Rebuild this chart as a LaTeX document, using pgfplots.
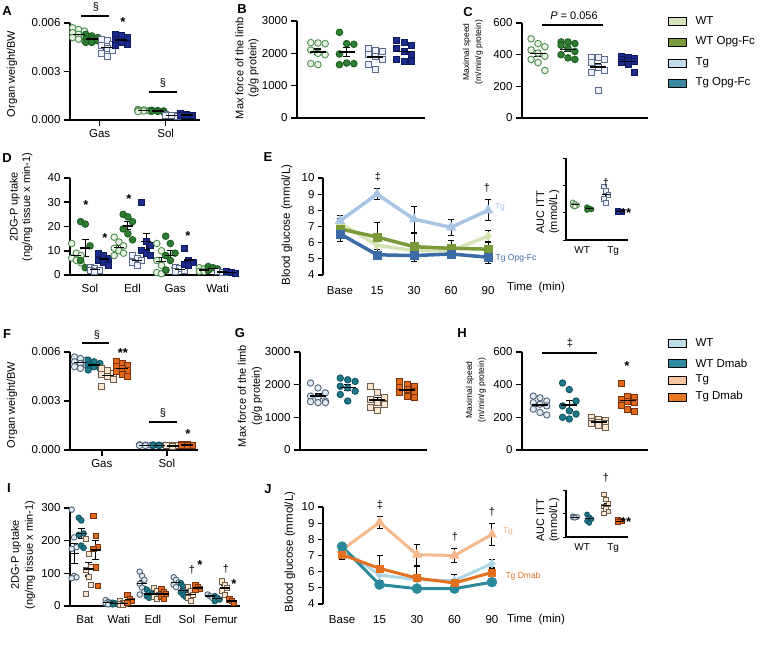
\documentclass[border=0pt]{standalone}
\usepackage{fontspec}
\setmainfont{Liberation Sans}
\usepackage{pgfplots}
\pgfplotsset{compat=1.18}
\newcommand\fs[1]{\fontsize{#1}{14}\selectfont}
\definecolor{wtF}{HTML}{EAF4E4}\definecolor{wtE}{HTML}{4E8B4E}
\definecolor{opgF}{HTML}{2E7D32}\definecolor{opgE}{HTML}{1B5E20}
\definecolor{tgF}{HTML}{EEF2FA}\definecolor{tgE}{HTML}{5A6A8A}
\definecolor{tgoF}{HTML}{1C2B8C}\definecolor{tgoE}{HTML}{0E1A5E}
\definecolor{wt2F}{HTML}{E2ECF5}\definecolor{wt2E}{HTML}{4E6278}
\definecolor{dmF}{HTML}{1E7A8A}\definecolor{dmE}{HTML}{0F5260}
\definecolor{tg2F}{HTML}{FBE6D2}\definecolor{tg2E}{HTML}{6E5C4C}
\definecolor{tgdF}{HTML}{E0681C}\definecolor{tgdE}{HTML}{7A3208}
\definecolor{eWT}{HTML}{D4E3B4}\definecolor{eOpg}{HTML}{7A9A3A}
\definecolor{eTg}{HTML}{A9C5E6}\definecolor{eTgo}{HTML}{3D6BA7}
\definecolor{jWT}{HTML}{ADD7E6}\definecolor{jDm}{HTML}{2A8A9C}
\definecolor{jTg}{HTML}{F5B98B}\definecolor{jTgd}{HTML}{E3701F}
\definecolor{l1a}{HTML}{D6E4BD}\definecolor{l1b}{HTML}{7B9C3C}
\definecolor{l1c}{HTML}{C2DCED}\definecolor{l1d}{HTML}{3A879F}
\definecolor{l2a}{HTML}{BDDDE9}\definecolor{l2b}{HTML}{2F8BA0}
\definecolor{l2c}{HTML}{F8C6A2}\definecolor{l2d}{HTML}{EA7722}

% scatter of typed values; x positions get a fixed small left/centre/right offset
\newcommand\swarm[4]{%
  \def\swlist{}\def\swi{0}%
  \pgfplotsforeachungrouped \swv in {#4}{%
    \pgfmathsetmacro\swx{#2+#3*(mod(\swi,3)-1)}%
    \xdef\swlist{\swlist(\swx,\swv)}%
    \pgfmathtruncatemacro\swi{\swi+1}%
  }%
  \edef\swcmd{\noexpand\addplot[\unexpanded{#1}] coordinates {\swlist};}%
  \swcmd
}

\pgfplotsset{
 panel/.style={scale only axis, anchor=south west, clip=false,
   axis x line*=bottom, axis y line*=left,
   axis line style={line width=2pt},
   tick style={line width=1.6pt, black}, tick align=outside, major tick length=6pt,
   tick label style={font=\fs{11.5}},
   /pgf/number format/assume math mode=true, /pgf/number format/1000 sep={},
   scaled y ticks=false, enlargelimits=false},
 s1wt/.style={only marks, mark=*, mark size=3.3pt, mark options={fill=wtF, draw=wtE, line width=0.9pt}},
 s1opg/.style={only marks, mark=*, mark size=3.3pt, mark options={fill=opgF, draw=opgE, line width=0.9pt}},
 s1tg/.style={only marks, mark=square*, mark size=3pt, mark options={fill=tgF, draw=tgE, line width=0.9pt}},
 s1tgo/.style={only marks, mark=square*, mark size=3pt, mark options={fill=tgoF, draw=tgoE, line width=0.9pt}},
 s2wt/.style={only marks, mark=*, mark size=3.2pt, mark options={fill=wt2F, draw=wt2E, line width=0.9pt}},
 s2dm/.style={only marks, mark=*, mark size=3.2pt, mark options={fill=dmF, draw=dmE, line width=0.9pt}},
 s2tg/.style={only marks, mark=square*, mark size=3pt, mark options={fill=tg2F, draw=tg2E, line width=0.9pt}},
 s2tgd/.style={only marks, mark=square*, mark size=3pt, mark options={fill=tgdF, draw=tgdE, line width=0.9pt}},
 msem/.style={only marks, black, mark=-, mark size=7pt, mark options={line width=1.5pt, black},
   error bars/y dir=both, error bars/y explicit,
   error bars/error bar style={line width=1.1pt, black},
   error bars/error mark options={rotate=90, mark size=3.5pt, line width=1.1pt, black}},
 eline/.style={mark options={solid, line width=0.5pt},
   error bars/y dir=both, error bars/y explicit,
   error bars/error bar style={black, line width=1pt},
   error bars/error mark options={rotate=90, black, mark size=3pt, line width=1pt}},
}

\begin{document}
\begin{tikzpicture}
\useasboundingbox (0,0) rectangle (763pt,649pt);

% ---------------- A ----------------
\begin{axis}[panel, at={(70pt,529pt)}, width=130pt, height=97pt,
  xmin=-0.45, xmax=1.52, ymin=0, ymax=0.006, ytick={0,0.003,0.006},
  yticklabel style={/pgf/number format/fixed, /pgf/number format/fixed zerofill, /pgf/number format/precision=3},
  xtick={0,1}, xticklabels={Gas,Sol}]
\swarm{s1wt}{-0.32}{0.09}{0.0057,0.0056,0.0055,0.0054,0.0053,0.0052,0.0051,0.0050,0.0049}
\swarm{s1opg}{-0.12}{0.09}{0.0053,0.0052,0.0051,0.0050,0.0050,0.0049,0.0048,0.0048}
\swarm{s1tg}{0.11}{0.09}{0.0050,0.0049,0.0047,0.0046,0.0044,0.0043,0.0041,0.0039}
\swarm{s1tgo}{0.33}{0.09}{0.0053,0.0052,0.0051,0.0050,0.0048,0.0047,0.0046}
\swarm{s1wt}{0.67}{0.09}{0.00065,0.00062,0.0006,0.00058,0.00056,0.00055,0.00052}
\swarm{s1opg}{0.88}{0.09}{0.0006,0.00058,0.00056,0.00055,0.00053,0.0005}
\swarm{s1tg}{1.09}{0.09}{0.00033,0.0003,0.00029,0.00028,0.00027,0.00025}
\swarm{s1tgo}{1.32}{0.09}{0.00038,0.00034,0.00031,0.0003,0.00028,0.00026}
\addplot[msem, mark size=6pt] coordinates {(-0.32,0.0053) +- (0,0.0001) (-0.12,0.00501) +- (0,0.00006) (0.11,0.00449) +- (0,0.00014) (0.33,0.00496) +- (0,0.0001)
 (0.67,0.00058) +- (0,0.00002) (0.88,0.00055) +- (0,0.00002) (1.09,0.00029) +- (0,0.00001) (1.32,0.00031) +- (0,0.00002)};
\end{axis}

% ---------------- B ----------------
\begin{axis}[panel, at={(297pt,531pt)}, width=128pt, height=97pt,
  xmin=0.27, xmax=4.73, ymin=0, ymax=3000, ytick={0,1000,2000,3000}, xtick=\empty]
\swarm{s1wt}{1}{0.25}{2330,2320,2300,2100,2000,1960,1680,1650}
\swarm{s1opg}{2}{0.25}{2650,2300,2280,1980,1700,1680,1650}
\swarm{s1tg}{3}{0.25}{2150,2100,2050,1950,1900,1800,1650,1500}
\swarm{s1tgo}{4}{0.25}{2400,2350,2250,2150,2050,1950,1800,1750,1750}
\addplot[msem, mark size=8pt] coordinates {(1,2043) +- (0,90) (2,2034) +- (0,140) (3,1888) +- (0,80) (4,2050) +- (0,80)};
\end{axis}

% ---------------- C ----------------
\begin{axis}[panel, at={(522pt,531pt)}, width=126pt, height=95pt,
  xmin=0.467, xmax=4.667, ymin=0, ymax=600, ytick={0,200,400,600}, xtick=\empty]
\swarm{s1wt}{1}{0.23}{500,470,450,430,410,390,370,350,300}
\swarm{s1opg}{2}{0.23}{480,480,470,460,440,420,400,380,370}
\swarm{s1tg}{3}{0.23}{385,385,370,350,320,300,290,175}
\swarm{s1tgo}{4}{0.23}{390,380,375,370,365,360,350,340,290}
\addplot[msem, mark size=8pt] coordinates {(1,408) +- (0,19) (2,433) +- (0,14) (3,322) +- (0,24) (4,358) +- (0,10)};
\end{axis}

% ---------------- D ----------------
\begin{axis}[panel, at={(70pt,374pt)}, width=168pt, height=97pt,
  xmin=-0.47, xmax=3.48, ymin=0, ymax=40, ytick={0,10,20,30,40},
  xtick={0,1,2,3}, xticklabels={Sol,Edl,Gas,Wati}, xtick style={draw=none}]
\swarm{s1wt}{-0.32}{0.11}{13,9,8,7,6,5}
\swarm{s1opg}{-0.11}{0.11}{22,21,12,6,3,3}
\swarm{s1tg}{0.11}{0.11}{3,2.5,2,2,1.5}
\swarm{s1tgo}{0.32}{0.11}{9,8,7,6,5,4}
\swarm{s1wt}{0.68}{0.11}{15.6,13.6,12,11,10,9,8}
\swarm{s1opg}{0.89}{0.11}{25,24,22,19,17,14.5}
\swarm{s1tg}{1.11}{0.11}{8,7,6,5,4}
\swarm{s1tgo}{1.32}{0.11}{30,14,12,10,9,8}
\swarm{s1wt}{1.68}{0.11}{13,10,8,6,4,2,1,0.5}
\swarm{s1opg}{1.89}{0.11}{16,13,9,8,6,3,2}
\swarm{s1tg}{2.11}{0.11}{3,2.5,2,1.5}
\swarm{s1tgo}{2.32}{0.11}{11,6,5,4.5,4}
\swarm{s1wt}{2.68}{0.11}{3,2.5,2,1.5,1.5}
\swarm{s1opg}{2.89}{0.11}{3.5,3,2.5,2}
\swarm{s1tg}{3.11}{0.11}{1.5,1,1}
\swarm{s1tgo}{3.32}{0.11}{1.5,1,0.8}
\addplot[msem, mark size=5pt] coordinates {(-0.32,8.0) +- (0,1.2) (-0.11,11.2) +- (0,3.4) (0.11,2.2) +- (0,0.3) (0.32,6.5) +- (0,0.8)
 (0.68,11.3) +- (0,1) (0.89,20.3) +- (0,1.7) (1.11,6) +- (0,0.7) (1.32,13.8) +- (0,3.3)
 (1.68,5.6) +- (0,1.5) (1.89,8.1) +- (0,1.9) (2.11,2.25) +- (0,0.3) (2.32,6.1) +- (0,1.3)
 (2.68,2.1) +- (0,0.3) (2.89,2.75) +- (0,0.3) (3.11,1.2) +- (0,0.2) (3.32,1.1) +- (0,0.2)};
\end{axis}

% ---------------- E ----------------
\begin{axis}[panel, at={(323pt,374pt)}, width=178pt, height=97pt,
  xmin=-0.46, xmax=4.35, ymin=4, ymax=10, ytick={4,5,...,10},
  xtick={0,1,2,3,4}, xticklabels={Base,15,30,60,90},
  x axis line style={draw=none}, xtick style={draw=none},
  axis line style={line width=1.6pt}, tick style={line width=1.3pt}, major tick length=5pt,
  tick label style={font=\fs{11.5}}, xticklabel style={yshift=-3pt}]
\addplot[eline, color=eWT, line width=3.5pt, mark=diamond*, mark size=4.5pt] coordinates {(0,7.2) +- (0,0.3) (1,5.85) +- (0,0.4) (2,5.5) +- (0,0.5) (3,5.5) +- (0,0.4) (4,6.4) +- (0,0.35)};
\addplot[eline, color=eTg, line width=3.5pt, mark=triangle*, mark size=5.5pt] coordinates {(0,7.35) +- (0,0.3) (1,9.0) +- (0,0.35) (2,7.45) +- (0,0.8) (3,6.95) +- (0,0.5) (4,8.0) +- (0,0.65)};
\addplot[eline, color=eOpg, line width=3.5pt, mark=square*, mark size=4pt] coordinates {(0,6.85) +- (0,0.3) (1,6.35) +- (0,0.9) (2,5.75) +- (0,0.8) (3,5.65) +- (0,0.5) (4,5.6) +- (0,0.4)};
\addplot[eline, color=eTgo, line width=3.5pt, mark=square*, mark size=4pt] coordinates {(0,6.55) +- (0,0.45) (1,5.25) +- (0,0.3) (2,5.2) +- (0,0.35) (3,5.3) +- (0,0.3) (4,5.1) +- (0,0.4)};
\end{axis}

% ---------------- E inset ----------------
\begin{axis}[panel, at={(566pt,409pt)}, width=62pt, height=82pt,
  xmin=-0.52, xmax=1.48, ymin=0, ymax=600, ytick={0,200,400,600}, yticklabels={},
  xtick={0,1}, xticklabels={WT,Tg}, xtick style={draw=none},
  axis line style={line width=1.5pt}, tick style={line width=1pt}, major tick length=3pt,
  tick label style={font=\fs{10}}]
\swarm{s1wt, mark size=2.4pt}{-0.23}{0.07}{275,265,255,250,245}
\swarm{s1opg, mark size=2.4pt}{0.23}{0.07}{240,230,225,220}
\swarm{s1tg, mark size=2.2pt}{0.77}{0.07}{390,360,330,300,270}
\swarm{s1tgo, mark size=2.2pt}{1.23}{0.07}{215,210,205,200}
\addplot[msem, mark size=4pt, mark options={line width=1pt}, error bars/error mark options={rotate=90, mark size=2pt, line width=0.8pt, black}] coordinates {(-0.23,258) +- (0,6) (0.23,229) +- (0,4) (0.77,330) +- (0,21) (1.23,207) +- (0,3)};
\end{axis}

% ---------------- F ----------------
\begin{axis}[panel, at={(70pt,199pt)}, width=128pt, height=98pt,
  xmin=-0.49, xmax=1.48, ymin=0, ymax=0.006, ytick={0,0.003,0.006},
  yticklabel style={/pgf/number format/fixed, /pgf/number format/fixed zerofill, /pgf/number format/precision=3},
  xtick={0,1}, xticklabels={Gas,Sol}]
\swarm{s2wt}{-0.33}{0.09}{0.0057,0.0056,0.0055,0.0054,0.0053,0.0052,0.0051,0.0050}
\swarm{s2dm}{-0.12}{0.09}{0.0055,0.0054,0.0053,0.0052,0.0051,0.0050,0.0049}
\swarm{s2tg}{0.09}{0.09}{0.0050,0.0049,0.0047,0.0046,0.0045,0.0043,0.0039}
\swarm{s2tgd}{0.31}{0.09}{0.0054,0.0053,0.0052,0.0051,0.0050,0.0049,0.0048,0.0046,0.0045}
\swarm{s2wt}{0.67}{0.09}{0.00032,0.0003,0.00029,0.00028,0.00027}
\swarm{s2dm}{0.88}{0.09}{0.00031,0.0003,0.00029,0.00028,0.00027}
\swarm{s2tg}{1.09}{0.09}{0.00028,0.00027,0.00026,0.00025,0.00024}
\swarm{s2tgd}{1.31}{0.09}{0.00033,0.00032,0.0003,0.00029,0.00028}
\addplot[msem, mark size=6pt] coordinates {(-0.33,0.00535) +- (0,0.00009) (-0.12,0.0052) +- (0,0.00008) (0.09,0.00456) +- (0,0.00014) (0.31,0.00498) +- (0,0.0001)
 (0.67,0.00029) +- (0,0.00001) (0.88,0.00029) +- (0,0.00001) (1.09,0.00026) +- (0,0.00001) (1.31,0.0003) +- (0,0.00001)};
\end{axis}

% ---------------- G ----------------
\begin{axis}[panel, at={(300pt,199pt)}, width=127pt, height=98pt,
  xmin=0.394, xmax=4.67, ymin=0, ymax=3000, ytick={0,1000,2000,3000}, xtick=\empty]
\swarm{s2wt}{1}{0.25}{2050,1900,1750,1650,1600,1500,1480,1450,1450}
\swarm{s2dm}{2}{0.25}{2200,2150,2100,1950,1900,1800,1700,1500}
\swarm{s2tg}{3}{0.25}{1950,1750,1600,1550,1450,1400,1300,1200}
\swarm{s2tgd}{4}{0.25}{2100,2000,1950,1900,1850,1800,1750,1650,1600}
\addplot[msem, mark size=8pt] coordinates {(1,1648) +- (0,65) (2,1912) +- (0,85) (3,1525) +- (0,85) (4,1844) +- (0,55)};
\end{axis}

% ---------------- H ----------------
\begin{axis}[panel, at={(522pt,199pt)}, width=126pt, height=98pt,
  xmin=0.386, xmax=4.686, ymin=0, ymax=600, ytick={0,200,400,600}, xtick=\empty]
\swarm{s2wt}{1}{0.23}{330,320,300,290,280,270,250,230,215}
\swarm{s2dm}{2}{0.23}{410,370,300,270,240,220,200,190}
\swarm{s2tg}{3}{0.23}{200,190,180,175,170,165,160,150,140}
\swarm{s2tgd}{4}{0.23}{410,330,320,310,300,290,270,250,235}
\addplot[msem, mark size=8pt] coordinates {(1,276) +- (0,12) (2,275) +- (0,28) (3,170) +- (0,6) (4,302) +- (0,17)};
\end{axis}

% ---------------- I ----------------
\begin{axis}[panel, at={(70pt,43pt)}, width=170pt, height=98pt,
  xmin=-0.44, xmax=4.56, ymin=0, ymax=300, ytick={0,100,200,300},
  xtick={0,1,2,3,4}, xticklabels={Bat,Wati,Edl,Sol,Femur}, xtick style={draw=none}]
\swarm{s2wt, mark size=2.8pt}{-0.32}{0.07}{295,210,180,175,92,88,85}
\swarm{s2dm, mark size=2.8pt}{-0.11}{0.07}{270,262,222,218,185,178}
\swarm{s2tg, mark size=2.6pt}{0.11}{0.07}{205,160,120,110,90,65,38}
\swarm{s2tgd, mark size=2.6pt}{0.32}{0.07}{275,215,180,175,118,62}
\swarm{s2wt, mark size=2.8pt}{0.68}{0.07}{18,12,10,8,5}
\swarm{s2dm, mark size=2.8pt}{0.89}{0.07}{10,8,6,5}
\swarm{s2tg, mark size=2.6pt}{1.11}{0.07}{15,10,8,5,3}
\swarm{s2tgd, mark size=2.6pt}{1.32}{0.07}{34,20,15,10}
\swarm{s2wt, mark size=2.8pt}{1.68}{0.07}{105,92,80,68,56,45,35}
\swarm{s2dm, mark size=2.8pt}{1.89}{0.07}{50,42,36,30,25}
\swarm{s2tg, mark size=2.6pt}{2.11}{0.07}{55,45,35,28,22}
\swarm{s2tgd, mark size=2.6pt}{2.32}{0.07}{52,44,36,28,22}
\swarm{s2wt, mark size=2.8pt}{2.68}{0.07}{88,80,72,65,58}
\swarm{s2dm, mark size=2.8pt}{2.89}{0.07}{70,60,50,42,34,28}
\swarm{s2tg, mark size=2.6pt}{3.11}{0.07}{58,45,35,25,15}
\swarm{s2tgd, mark size=2.6pt}{3.32}{0.07}{65,58,52,48}
\swarm{s2wt, mark size=2.8pt}{3.68}{0.07}{35,30,25}
\swarm{s2dm, mark size=2.8pt}{3.89}{0.07}{30,25,20,15}
\swarm{s2tg, mark size=2.6pt}{4.11}{0.07}{75,65,55,45,35}
\swarm{s2tgd, mark size=2.6pt}{4.32}{0.07}{20,15,10}
\addplot[msem, mark size=5pt] coordinates {(-0.32,161) +- (0,30) (-0.11,222) +- (0,15) (0.11,113) +- (0,21) (0.32,171) +- (0,30)
 (0.68,10.6) +- (0,2.2) (0.89,7.3) +- (0,1.1) (1.11,8.2) +- (0,2.1) (1.32,19.8) +- (0,5.3)
 (1.68,68.7) +- (0,9) (1.89,36.6) +- (0,4.4) (2.11,37) +- (0,6) (2.32,36.4) +- (0,5.4)
 (2.68,72.6) +- (0,5.3) (2.89,47.3) +- (0,6.6) (3.11,35.6) +- (0,7.2) (3.32,55.75) +- (0,3.6)
 (3.68,30) +- (0,2.9) (3.89,22.5) +- (0,3.2) (4.11,55) +- (0,7) (4.32,15) +- (0,2.9)};
\end{axis}

% ---------------- J ----------------
\begin{axis}[panel, at={(323pt,45pt)}, width=182pt, height=97pt,
  xmin=-0.51, xmax=4.35, ymin=4, ymax=10, ytick={4,5,...,10},
  xtick={0,1,2,3,4}, xticklabels={Base,15,30,60,90},
  x axis line style={draw=none}, xtick style={draw=none},
  axis line style={line width=1.6pt}, tick style={line width=1.3pt}, major tick length=5pt,
  tick label style={font=\fs{11.5}}, xticklabel style={yshift=-3pt}]
\addplot[eline, color=jWT, line width=3pt, mark=diamond*, mark size=4.5pt] coordinates {(0,7.4) +- (0,0.3) (1,5.8) +- (0,0.35) (2,5.5) +- (0,0.35) (3,5.45) +- (0,0.35) (4,6.5) +- (0,0.25)};
\addplot[eline, color=jTg, line width=3pt, mark=triangle*, mark size=5.5pt] coordinates {(0,7.35) +- (0,0.3) (1,9.05) +- (0,0.35) (2,7.05) +- (0,0.65) (3,7.0) +- (0,0.45) (4,8.3) +- (0,0.7)};
\addplot[eline, color=jDm, line width=3pt, mark=*, mark size=5pt] coordinates {(0,7.55) +- (0,0.2) (1,5.2) +- (0,0.2) (2,4.95) +- (0,0.15) (3,4.95) +- (0,0.15) (4,5.35) +- (0,0.2)};
\addplot[eline, color=jTgd, line width=3pt, mark=square*, mark size=3.5pt] coordinates {(0,7.05) +- (0,0.3) (1,6.2) +- (0,0.8) (2,5.6) +- (0,0.75) (3,5.3) +- (0,0.5) (4,5.95) +- (0,0.25)};
\end{axis}

% ---------------- J inset ----------------
\begin{axis}[panel, at={(566pt,112pt)}, width=62pt, height=47pt,
  xmin=-0.52, xmax=1.48, ymin=0, ymax=1000, ytick={0,500,1000}, yticklabels={},
  xtick={0,1}, xticklabels={WT,Tg}, xtick style={draw=none},
  axis line style={line width=1.5pt}, tick style={line width=1pt}, major tick length=3pt,
  tick label style={font=\fs{10}}]
\swarm{s2wt, mark size=2.4pt}{-0.23}{0.07}{440,430,425,415,410}
\swarm{s2dm, mark size=2.4pt}{0.23}{0.07}{480,420,380,340,300}
\swarm{s2tg, mark size=2.2pt}{0.77}{0.07}{900,800,700,650,600,550,500}
\swarm{s2tgd, mark size=2.2pt}{1.23}{0.07}{360,340,330,320}
\addplot[msem, mark size=4pt, mark options={line width=1pt}, error bars/error mark options={rotate=90, mark size=2pt, line width=0.8pt, black}] coordinates {(-0.23,424) +- (0,5) (0.23,384) +- (0,31) (0.77,671) +- (0,53) (1.23,338) +- (0,9)};
\end{axis}

% ---------------- annotations (pixel coordinates, y downwards) ----------------
\begin{scope}[x=1pt, y=-1pt, yshift=649pt]
\tikzset{lab/.style={font=\bfseries\fs{13}}, sig/.style={font=\fs{11}}, st/.style={font=\bfseries\fs{13}}}
% panel letters
\node[lab] at (7,11) {A}; \node[lab] at (242,9) {B}; \node[lab] at (468,12) {C};
\node[lab] at (7,158) {D}; \node[lab] at (268,157) {E};
\node[lab] at (7,334) {F}; \node[lab] at (240,333) {G}; \node[lab] at (462,333) {H};
\node[lab] at (9,488) {I}; \node[lab] at (268,489) {J};
% y labels
\node[rotate=90, font=\fs{11}] at (12,74) {Organ weight/BW};
\node[rotate=90, align=center, font=\fontsize{11}{13}\selectfont] at (247,68) {Max force of the limb\\(g/g protein)};
\node[rotate=90, align=center, font=\fontsize{8.5}{12}\selectfont] at (473,52) {Maximal speed\\(m/min/g protein)};
\node[rotate=90, align=center, font=\fontsize{11}{12.5}\selectfont] at (21,207) {2DG-P uptake\\(ng/mg tissue x min-1)};
\node[rotate=90, font=\fs{11.5}] at (287,225) {Blood glucose (mmol/L)};
\node[rotate=90, align=center, font=\fontsize{11}{13}\selectfont] at (548,212) {AUC ITT\\(mmol/L)};
\node[rotate=90, font=\fs{11}] at (12,405) {Organ weight/BW};
\node[rotate=90, align=center, font=\fontsize{11}{14}\selectfont] at (250,396) {Max force of the limb\\(g/g protein)};
\node[rotate=90, align=center, font=\fontsize{8.5}{12}\selectfont] at (476,390) {Maximal speed\\(m/min/g protein)};
\node[rotate=90, align=center, font=\fontsize{11}{14}\selectfont] at (23,555) {2DG-P uptake\\(ng/mg tissue x min-1)};
\node[rotate=90, font=\fs{11.5}] at (290,552) {Blood glucose (mmol/L)};
\node[rotate=90, align=center, font=\fontsize{11}{13}\selectfont] at (548,520) {AUC ITT\\(mmol/L)};
% time labels
\node[font=\fs{11.5}] at (536,288) {Time\ \ (min)};
\node[font=\fs{11.5}] at (536,620) {Time\ \ (min)};
% significance marks A
\draw[line width=1.5pt] (81,16) -- (109,16); \node[sig] at (96,7) {§};
\node[st] at (123,22) {*};
\draw[line width=1.5pt] (149,92) -- (177,92); \node[sig] at (163,83) {§};
% C
\draw[line width=1.5pt] (542,25) -- (603,25); \node[font=\fs{11}] at (574,16) {\textit{P} = 0.056};
% D
\node[st] at (86,205) {*}; \node[st] at (105,238) {*}; \node[st] at (129,199) {*}; \node[st] at (188,236) {*};
% E
\node[sig] at (378,177) {‡}; \node[sig] at (487,188) {†};
\node[font=\fs{8.5}, text=eTg] at (500,207) {Tg};
\node[font=\fs{8.5}, text=eTgo] at (516,258) {Tg Opg-Fc};
\node[sig] at (606,183) {†}; \node[st] at (626,213) {**};
% F
\draw[line width=1.5pt] (82,343) -- (109,343); \node[sig] at (97,335) {§};
\node[st] at (123,353) {**};
\draw[line width=1.5pt] (149,422) -- (177,422); \node[sig] at (163,413) {§};
\node[st] at (188,434) {*};
% H
\draw[line width=1.5pt] (542,353) -- (597,353); \node[sig] at (570,343) {‡};
\node[st] at (627,366) {*};
% I
\node[sig] at (192,570) {†}; \node[st] at (200,565) {*};
\node[sig] at (226,569) {†}; \node[st] at (234,584) {*};
% J
\node[sig] at (380,505) {‡}; \node[sig] at (455,537) {†}; \node[sig] at (492,512) {†};
\node[font=\fs{8.5}, text=jTg] at (508,531) {Tg};
\node[font=\fs{8.5}, text=jTgd] at (523,576) {Tg Dmab};
\node[sig] at (606,478) {†}; \node[st] at (626,522) {**};
% legend 1
\draw[fill=l1a, line width=0.8pt] (668,17) rectangle (686,25); \node[anchor=west, font=\fs{11.5}] at (692,21) {WT};
\draw[fill=l1b, line width=0.8pt] (668,38) rectangle (686,46); \node[anchor=west, font=\fs{11.5}] at (692,42) {WT Opg-Fc};
\draw[fill=l1c, line width=0.8pt] (668,59) rectangle (686,67); \node[anchor=west, font=\fs{11.5}] at (692,63) {Tg};
\draw[fill=l1d, line width=0.8pt] (668,79) rectangle (686,87); \node[anchor=west, font=\fs{11.5}] at (692,83) {Tg Opg-Fc};
% legend 2
\draw[fill=l2a, line width=0.8pt] (668,339) rectangle (686,347); \node[anchor=west, font=\fs{11.5}] at (692,343) {WT};
\draw[fill=l2b, line width=0.8pt] (668,359) rectangle (686,367); \node[anchor=west, font=\fs{11.5}] at (692,363) {WT Dmab};
\draw[fill=l2c, line width=0.8pt] (668,376) rectangle (686,384); \node[anchor=west, font=\fs{11.5}] at (692,380) {Tg};
\draw[fill=l2d, line width=0.8pt] (668,393) rectangle (686,401); \node[anchor=west, font=\fs{11.5}] at (692,397) {Tg Dmab};
\end{scope}
\end{tikzpicture}
\end{document}
